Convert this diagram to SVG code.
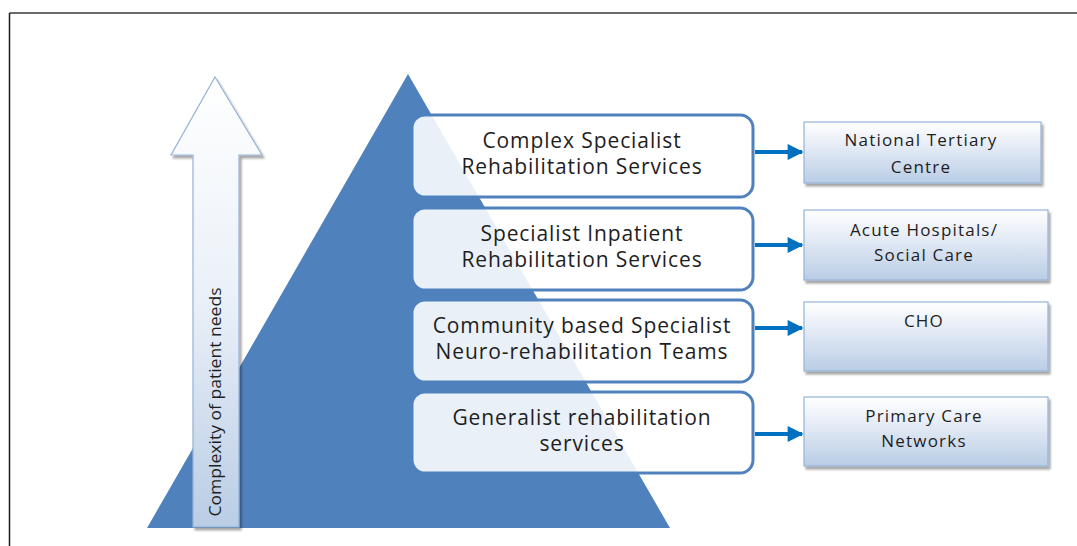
<svg xmlns="http://www.w3.org/2000/svg" width="1077" height="546" viewBox="0 0 1077 546">
  <defs>
    <linearGradient id="gArrow" x1="0" y1="0" x2="0" y2="1">
      <stop offset="0" stop-color="#ffffff"/>
      <stop offset="0.5" stop-color="#eaf0f8"/>
      <stop offset="1" stop-color="#b9cde5"/>
    </linearGradient>
    <linearGradient id="gBox" x1="0" y1="0" x2="0" y2="1">
      <stop offset="0" stop-color="#ffffff"/>
      <stop offset="0.35" stop-color="#e8eef7"/>
      <stop offset="1" stop-color="#b9cde5"/>
    </linearGradient>
    <filter id="shadow" x="-10%" y="-10%" width="130%" height="140%">
      <feGaussianBlur in="SourceAlpha" stdDeviation="1"/>
      <feOffset dx="2" dy="3" result="off"/>
      <feComponentTransfer><feFuncA type="linear" slope="0.35"/></feComponentTransfer>
      <feMerge><feMergeNode/><feMergeNode in="SourceGraphic"/></feMerge>
    </filter>
    <marker id="head" viewBox="0 0 10 10" refX="9" refY="5" markerWidth="4.5" markerHeight="4" markerUnits="strokeWidth" orient="auto">
      <path d="M0,0 L10,5 L0,10 Z" fill="#0070c0"/>
    </marker>
  </defs>
  <style>
    .tier { fill: #ffffff; fill-opacity: 0.88; stroke: #4f81bd; stroke-width: 3; }
    .tier-text { font-family: "Open Sans", "Noto Sans", sans-serif; font-size: 21px; letter-spacing: 0.9px; fill: #1e1e1e; text-anchor: middle; }
    .place { fill: url(#gBox); stroke: #95b3d7; stroke-width: 1.2; filter: url(#shadow); }
    .place-text { font-family: "Open Sans", "Noto Sans", sans-serif; font-size: 17px; letter-spacing: 1.2px; fill: #1e1e1e; text-anchor: middle; }
    .link { stroke: #0070c0; stroke-width: 4; fill: none; marker-end: url(#head); }
  </style>

  <rect width="1077" height="546" fill="#ffffff"/>
  <!-- frame edges -->
  <line x1="9.5" y1="13" x2="1077" y2="13" stroke="#6b6b6b" stroke-width="2"/>
  <line x1="9.5" y1="13" x2="9.5" y2="546" stroke="#1a1a1a" stroke-width="1.5"/>

  <!-- pyramid -->
  <g id="pyramid">
    <polygon points="408,74 670,528 147,528" fill="#4f81bd"/>
  </g>

  <!-- complexity arrow -->
  <g id="complexity-arrow">
    <polygon points="215,77 262,155 239,155 239,527 193,527 193,155 171,155" fill="url(#gArrow)" stroke="#95b3d7" stroke-width="1.2" filter="url(#shadow)"/>
    <text transform="translate(221,402) rotate(-90)" font-family="Open Sans, Noto Sans, sans-serif" font-size="16" fill="#1e1e1e" text-anchor="middle" textLength="229" lengthAdjust="spacingAndGlyphs">Complexity of patient needs</text>
  </g>

  <!-- service tiers -->
  <g id="tier-complex">
    <rect class="tier" x="412" y="115" width="341" height="82" rx="13"/>
    <text class="tier-text" x="582" y="148">Complex Specialist</text>
    <text class="tier-text" x="582" y="174">Rehabilitation Services</text>
  </g>
  <g id="tier-inpatient">
    <rect class="tier" x="412" y="208" width="341" height="82" rx="13"/>
    <text class="tier-text" x="582" y="241">Specialist Inpatient</text>
    <text class="tier-text" x="582" y="267">Rehabilitation Services</text>
  </g>
  <g id="tier-community">
    <rect class="tier" x="412" y="300" width="341" height="82" rx="13"/>
    <text class="tier-text" x="582" y="333">Community based Specialist</text>
    <text class="tier-text" x="582" y="359">Neuro-rehabilitation Teams</text>
  </g>
  <g id="tier-generalist">
    <rect class="tier" x="412" y="392" width="341" height="81" rx="13"/>
    <text class="tier-text" x="582" y="425">Generalist rehabilitation</text>
    <text class="tier-text" x="582" y="451">services</text>
  </g>

  <!-- settings -->
  <g id="setting-national">
    <rect class="place" x="804" y="122" width="237" height="61"/>
    <text class="place-text" x="921" y="146">National Tertiary</text>
    <text class="place-text" x="921" y="173">Centre</text>
  </g>
  <g id="setting-acute">
    <rect class="place" x="804" y="210" width="244" height="70"/>
    <text class="place-text" x="924" y="236">Acute Hospitals/</text>
    <text class="place-text" x="924" y="261">Social Care</text>
  </g>
  <g id="setting-cho">
    <rect class="place" x="804" y="302" width="244" height="69"/>
    <text class="place-text" x="924" y="327">CHO</text>
  </g>
  <g id="setting-primary">
    <rect class="place" x="804" y="397" width="244" height="69"/>
    <text class="place-text" x="924" y="422">Primary Care</text>
    <text class="place-text" x="924" y="447">Networks</text>
  </g>

  <!-- connectors -->
  <g id="connectors">
    <line class="link" x1="755" y1="152" x2="802" y2="152"/>
    <line class="link" x1="755" y1="245" x2="802" y2="245"/>
    <line class="link" x1="755" y1="328" x2="802" y2="328"/>
    <line class="link" x1="755" y1="434" x2="802" y2="434"/>
  </g>
</svg>
